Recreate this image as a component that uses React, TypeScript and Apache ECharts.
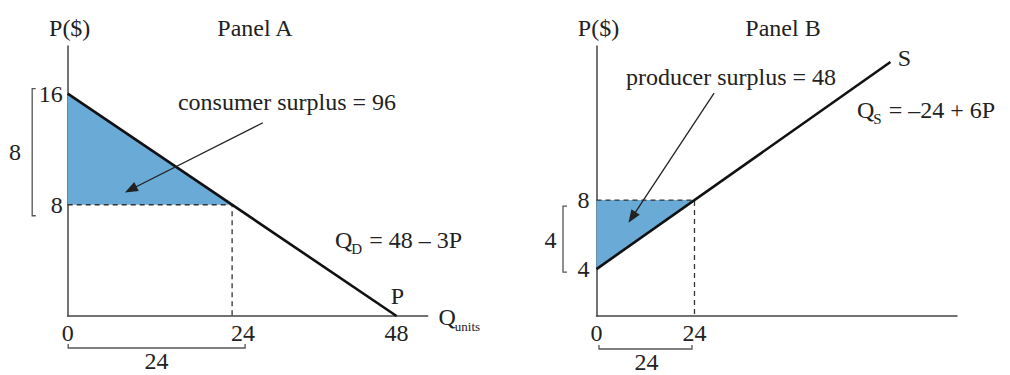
import React, { useEffect, useRef } from "react";
import * as echarts from "echarts";

// ---- data ----
const panelAXTicks = [0, 24, 48];
const panelAYTicks = [8, 16];
const panelBXTicks = [0, 24];
const panelBYTicks = [4, 8];

const demandQ = [0, 48];
const demandP = [16, 0];
const supplyQ = [0, 72];
const supplyP = [4, 16];

const eqQ = 24;
const eqP = 8;

const consumerSurplusPts = [
  [0, 16],
  [24, 8],
  [0, 8],
];
const producerSurplusPts = [
  [0, 4],
  [24, 8],
  [0, 8],
];

const arrowA = [
  [28.5, 13.9],
  [9.2, 9.1],
];
const arrowB = [
  [28.8, 14.2],
  [8.7, 7.0],
];

const axisRangeA = { xMax: 52.55, yMin: 0, yMax: 19.42 };
const axisRangeB = { xMax: 88.3, yMin: 1.28, yMax: 16.93 };

const FONT = "'Liberation Serif', 'DejaVu Serif', serif";
const TXT = "#222";
const FILL = "#6aaad6";

let measureCtx: CanvasRenderingContext2D | null = null;
function textWidth(s: string, size: number) {
  if (!measureCtx) measureCtx = document.createElement("canvas").getContext("2d");
  if (!measureCtx) return s.length * size * 0.5;
  measureCtx.font = `${size}px ${FONT}`;
  return measureCtx.measureText(s).width;
}

function App() {
  const ref = useRef<HTMLDivElement>(null);

  useEffect(() => {
    if (!ref.current) return;
    const chart = echarts.init(ref.current, null, { renderer: "svg" });

    const axisLine = { show: true, onZero: false, lineStyle: { color: "#444", width: 1.5 } };
    const labelStyle = { fontFamily: FONT, fontSize: 24, color: TXT };

    const triangleSeries = (pts: number[][], xi: number) => ({
      type: "custom",
      xAxisIndex: xi,
      yAxisIndex: xi,
      data: [0],
      silent: true,
      z: 1,
      renderItem: (_params: any, api: any) => ({
        type: "polygon",
        shape: { points: pts.map((p) => api.coord(p)) },
        style: { fill: FILL, stroke: "none" },
      }),
    });

    const arrowMark = (a: number[][]) => ({
      silent: true,
      symbol: ["none", "triangle"],
      symbolSize: [10, 13],
      label: { show: false },
      lineStyle: { color: "#222", width: 1.3, type: "solid" },
      data: [[{ coord: a[0] }, { coord: a[1] }]],
    });

    const option: any = {
      animation: false,
      grid: [
        { left: 67.7, top: 46, width: 360, height: 270 },
        { left: 596.5, top: 46, width: 360.5, height: 270 },
      ],
      xAxis: [
        {
          type: "value",
          gridIndex: 0,
          min: 0,
          max: axisRangeA.xMax,
          axisLine,
          axisTick: { show: false },
          splitLine: { show: false },
          axisLabel: {
            ...labelStyle,
            margin: 5,
            customValues: panelAXTicks,
            formatter: (v: number) => (v === 24 ? "{r|24}" : String(v)),
            rich: { r: { ...labelStyle, padding: [0, 0, 0, 22] } },
          },
        },
        {
          type: "value",
          gridIndex: 1,
          min: 0,
          max: axisRangeB.xMax,
          axisLine,
          axisTick: { show: false },
          splitLine: { show: false },
          axisLabel: { ...labelStyle, margin: 5, customValues: panelBXTicks },
        },
      ],
      yAxis: [
        {
          type: "value",
          gridIndex: 0,
          min: axisRangeA.yMin,
          max: axisRangeA.yMax,
          axisLine,
          axisTick: { show: false },
          splitLine: { show: false },
          axisLabel: { ...labelStyle, margin: 5, customValues: panelAYTicks },
        },
        {
          type: "value",
          gridIndex: 1,
          min: axisRangeB.yMin,
          max: axisRangeB.yMax,
          axisLine,
          axisTick: { show: false },
          splitLine: { show: false },
          axisLabel: { ...labelStyle, margin: 7, customValues: panelBYTicks },
        },
      ],
      series: [
        triangleSeries(consumerSurplusPts, 0),
        {
          type: "line",
          xAxisIndex: 0,
          yAxisIndex: 0,
          data: [
            [0, eqP],
            [eqQ, eqP],
            [eqQ, axisRangeA.yMin],
          ],
          symbol: "none",
          silent: true,
          z: 2,
          lineStyle: { color: "#333", width: 1.3, type: [5, 4] },
        },
        {
          type: "line",
          xAxisIndex: 0,
          yAxisIndex: 0,
          data: demandQ.map((q, i) => [q, demandP[i]]),
          symbol: "none",
          silent: true,
          z: 3,
          lineStyle: { color: "#111", width: 2.6 },
          markLine: arrowMark(arrowA),
        },
        triangleSeries(producerSurplusPts, 1),
        {
          type: "line",
          xAxisIndex: 1,
          yAxisIndex: 1,
          data: [
            [0, eqP],
            [eqQ, eqP],
            [eqQ, axisRangeB.yMin],
          ],
          symbol: "none",
          silent: true,
          z: 2,
          lineStyle: { color: "#333", width: 1.3, type: [5, 4] },
        },
        {
          type: "line",
          xAxisIndex: 1,
          yAxisIndex: 1,
          data: supplyQ.map((q, i) => [q, supplyP[i]]),
          symbol: "none",
          silent: true,
          z: 3,
          lineStyle: { color: "#111", width: 2.6 },
          markLine: arrowMark(arrowB),
        },
      ],
    };
    chart.setOption(option);

    const pA = (x: number, y: number) => chart.convertToPixel({ gridIndex: 0 }, [x, y]) as number[];
    const pB = (x: number, y: number) => chart.convertToPixel({ gridIndex: 1 }, [x, y]) as number[];

    const txt = (text: string, x: number, y: number, align = "center", size = 24) => ({
      type: "text",
      x,
      y,
      silent: true,
      style: { text, fontFamily: FONT, fontSize: size, fill: TXT, align, verticalAlign: "middle" },
    });
    // main text + lowered subscript + rest, as separate texts
    const subTxt = (main: string, sub: string, rest: string, x: number, y: number, subSize = 15, drop = 9) => {
      const wMain = textWidth(main, 24);
      const wSub = textWidth(sub, subSize);
      const out: any[] = [txt(main, x, y, "left"), txt(sub, x + wMain - 1, y + drop, "left", subSize)];
      if (rest) out.push(txt(rest, x + wMain + wSub, y, "left"));
      return out;
    };
    const bracket = (pts: number[][]) => ({
      type: "polyline",
      silent: true,
      shape: { points: pts },
      style: { stroke: "#555", lineWidth: 1.3, fill: "none" },
    });

    const a0 = pA(0, 0);
    const a16 = pA(0, 16);
    const a8 = pA(0, 8);
    const a24 = pA(24, 0);
    const a48 = pA(48, 0);
    const b0 = pB(0, axisRangeB.yMin);
    const b4 = pB(0, 4);
    const b8 = pB(0, 8);
    const b24 = pB(24, axisRangeB.yMin);
    const bEnd = pB(72, 16);

    const graphic = [
      txt("P($)", a0[0] + 2, 28),
      txt("Panel A", 255, 28),
      txt("P($)", b0[0] + 2, 28),
      txt("Panel B", 783, 28),
      txt("consumer surplus = 96", 287, 102),
      txt("producer surplus = 48", 731, 77),
      txt("P", a48[0] + 1, a48[1] - 20),
      txt("S", bEnd[0] + 14, bEnd[1] - 4),
      ...subTxt("Q", "units", "", a48[0] + 42, a48[1] + 1, 13, 9),
      ...subTxt("Q", "D", " = 48 – 3P", 335, 240, 15, 9),
      ...subTxt("Q", "S", " = –24 + 6P", 857, 110, 15, 9),
      // left bracket panel A
      bracket([
        [a0[0] - 32, a16[1] - 5],
        [a0[0] - 35.5, a16[1] - 5],
        [a0[0] - 35.5, a8[1] + 11],
        [a0[0] - 32, a8[1] + 11],
      ]),
      txt("8", 15, (a16[1] + a8[1]) / 2 + 3),
      // bottom bracket panel A
      bracket([
        [a0[0] + 0.5, a0[1] + 28],
        [a0[0] + 0.5, a0[1] + 32],
        [a24[0] + 13, a0[1] + 32],
        [a24[0] + 13, a0[1] + 28],
      ]),
      txt("24", (a0[0] + a24[0] + 13) / 2, 361),
      // left bracket panel B
      bracket([
        [b0[0] - 29.5, b8[1] + 6],
        [b0[0] - 33.5, b8[1] + 6],
        [b0[0] - 33.5, b4[1] + 3],
        [b0[0] - 29.5, b4[1] + 3],
      ]),
      txt("4", b0[0] - 46, (b8[1] + b4[1]) / 2 + 5),
      // bottom bracket panel B
      bracket([
        [b0[0] + 2.5, b0[1] + 29],
        [b0[0] + 2.5, b0[1] + 33],
        [b24[0] - 2.5, b0[1] + 33],
        [b24[0] - 2.5, b0[1] + 29],
      ]),
      txt("24", (b0[0] + b24[0]) / 2 + 1, 362),
    ];
    chart.setOption({ graphic });

    return () => chart.dispose();
  }, []);

  return (
    <div
      ref={ref}
      style={{ position: "fixed", left: 0, top: 0, width: 1010, height: 375, background: "#fff" }}
    />
  );
}

export default App;
